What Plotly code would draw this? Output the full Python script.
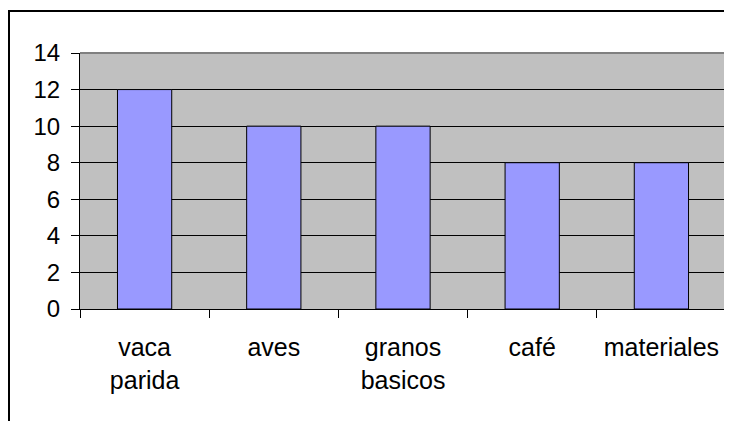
import plotly.graph_objects as go

categories = ["vaca<br>parida", "aves", "granos<br>basicos", "café", "materiales"]
values = [12, 10, 10, 8, 8]
y_ticks = [0, 2, 4, 6, 8, 10, 12, 14]

FONT = "Liberation Sans, Arial, sans-serif"

fig = go.Figure(
    go.Bar(
        x=categories,
        y=values,
        width=0.42,
        marker=dict(color="#9999FF", line=dict(color="black", width=1)),
    )
)

# the page body has an 8px margin, so the figure starts at (8, 8) in the window
OFF = 8
W, H = 732 - OFF, 421 - OFF
L, R, T, B = 80 - OFF, 6, 53 - OFF, 112
pw, ph = W - L - R, H - T - B

fig.update_layout(
    template="none",
    width=W,
    height=H,
    margin=dict(l=L, r=R, t=T, b=B, pad=0),
    paper_bgcolor="white",
    plot_bgcolor="#C0C0C0",
    showlegend=False,
    font=dict(family=FONT, size=24, color="black"),
)

fig.update_xaxes(
    automargin=False,
    showgrid=False,
    showline=True,
    linecolor="black",
    linewidth=1,
    ticks="outside",
    tickson="boundaries",
    ticklen=8,
    tickcolor="black",
    tickwidth=1,
    tickfont=dict(size=25),
    ticklabelstandoff=16,
)
fig.update_yaxes(
    automargin=False,
    range=[0, 14],
    tickvals=y_ticks,
    showgrid=True,
    gridcolor="black",
    gridwidth=1,
    zeroline=False,
    showline=True,
    linecolor="black",
    linewidth=1,
    ticks="outside",
    ticklen=8,
    tickcolor="black",
    tickwidth=1,
    ticklabelstandoff=6,
)

# plot area border (top & right, gray)
fig.add_shape(type="line", xref="paper", yref="paper", x0=0, x1=1, y0=1, y1=1,
              line=dict(color="#808080", width=2), layer="above")
fig.add_shape(type="line", xref="paper", yref="paper", x0=1, x1=1, y0=0, y1=1,
              line=dict(color="#808080", width=2), layer="above")

# outer chart border (left/top edges at window x=8, y=11)
bx0 = (8 + 1 - OFF - L) / pw
by1 = (H - B - (11 - OFF)) / ph
fig.add_shape(type="rect", xref="paper", yref="paper",
              x0=bx0, x1=(W + 20 - L) / pw,
              y0=-(B + 20) / ph, y1=by1,
              line=dict(color="black", width=2), fillcolor="rgba(0,0,0,0)", layer="below")

fig.write_html("out.html")
